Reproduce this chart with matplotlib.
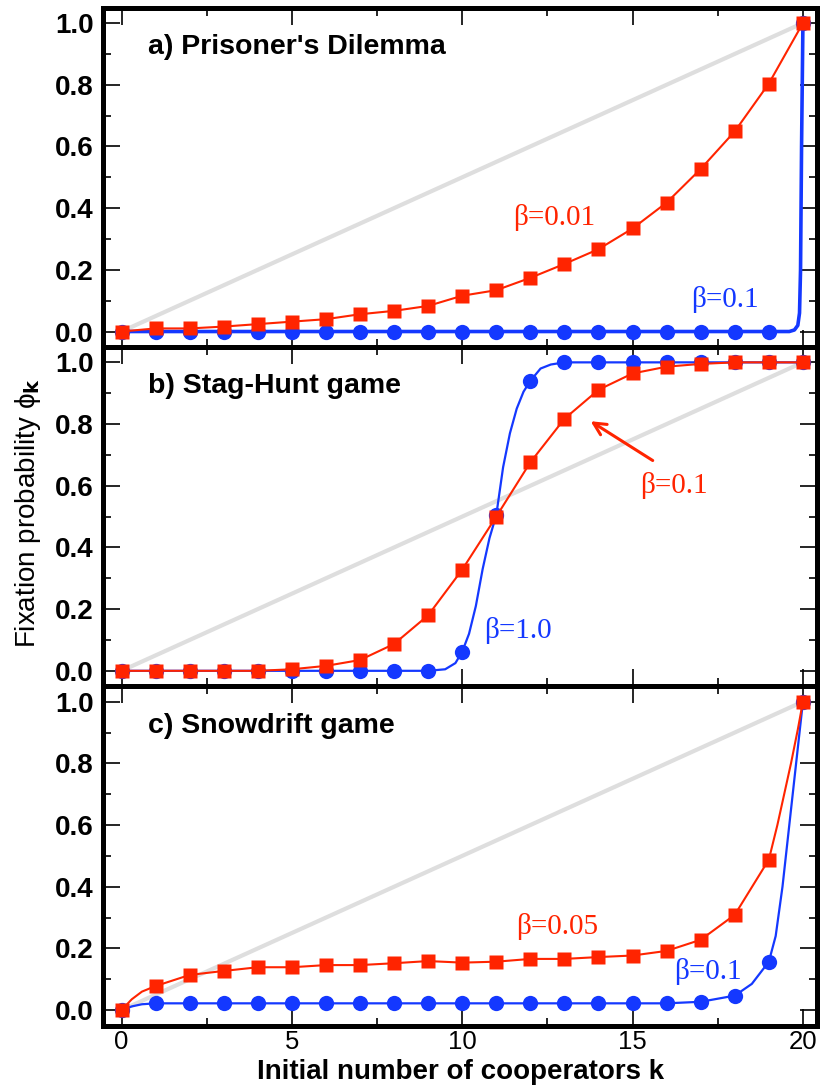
import matplotlib
matplotlib.use("Agg")
import matplotlib.pyplot as plt
from matplotlib.ticker import MultipleLocator

# initial number of cooperators
k = list(range(21))

# a) Prisoner's Dilemma
pd_red = [0.0, 0.01, 0.01, 0.016, 0.024, 0.032, 0.04, 0.056, 0.067, 0.083, 0.116,
          0.134, 0.174, 0.219, 0.267, 0.334, 0.418, 0.527, 0.649, 0.804, 1.0]
pd_blue = [0.0] * 20 + [1.0]
pd_blue_k_extra = [19.6, 19.75, 19.85, 19.9, 19.93, 19.96]
pd_blue_extra = [0.0, 0.005, 0.02, 0.06, 0.2, 0.6]

# b) Stag-Hunt game
sh_red = [0.0, 0.0, 0.0, 0.0, 0.0, 0.005, 0.016, 0.035, 0.087, 0.18, 0.328,
          0.5, 0.676, 0.817, 0.911, 0.964, 0.986, 0.995, 1.0, 1.0, 1.0]
sh_blue = [0.0] * 10 + [0.062, 0.505, 0.94] + [1.0] * 8
sh_blue_k_extra = [9.5, 9.8, 10.2, 10.4, 10.6, 10.8, 11.2, 11.4, 11.6, 11.8, 12.3, 12.6]
sh_blue_extra = [0.005, 0.025, 0.12, 0.21, 0.33, 0.43, 0.66, 0.77, 0.85, 0.905, 0.98, 0.993]

# c) Snowdrift game
sd_red = [0.0, 0.078, 0.114, 0.127, 0.139, 0.139, 0.146, 0.146, 0.152, 0.159, 0.154,
          0.157, 0.166, 0.166, 0.172, 0.177, 0.192, 0.228, 0.309, 0.488, 1.0]
sd_red_k_extra = [0.3, 0.6, 19.25, 19.45, 19.65, 19.85]
sd_red_extra = [0.035, 0.06, 0.6, 0.7, 0.8, 0.91]
sd_blue = [0.0] + [0.022] * 16 + [0.027, 0.047, 0.157, 1.0]
sd_blue_k_extra = [0.3, 0.6, 18.5, 19.2, 19.4, 19.6, 19.8]
sd_blue_extra = [0.012, 0.019, 0.085, 0.24, 0.4, 0.6, 0.8]

titles = ["a) Prisoner's Dilemma", "b) Stag-Hunt game", "c) Snowdrift game"]

RED = "#ff2400"
BLUE = "#1438ff"
GREY = "#dedede"
SANS = ["Liberation Sans", "DejaVu Sans"]
SERIF = ["Liberation Serif", "DejaVu Serif"]


def curve(kk, yy, k_extra, y_extra):
    pts = sorted(list(zip(kk, yy)) + list(zip(k_extra, y_extra)))
    return [p[0] for p in pts], [p[1] for p in pts]


fig, axes = plt.subplots(3, 1, figsize=(8.21, 10.91), dpi=100, sharex=True,
                         gridspec_kw=dict(hspace=0))
fig.subplots_adjust(left=0.126, right=0.995, top=0.993, bottom=0.06)

panels = [
    (pd_red, [], [], pd_blue, pd_blue_k_extra, pd_blue_extra, 2.6),
    (sh_red, [], [], sh_blue, sh_blue_k_extra, sh_blue_extra, 1.6),
    (sd_red, sd_red_k_extra, sd_red_extra, sd_blue, sd_blue_k_extra, sd_blue_extra, 1.6),
]

for ax, title, (red, rk, ry, blue, bk, by, blw) in zip(axes, titles, panels):
    ax.plot([0, 20], [0, 1], color=GREY, lw=3, zorder=1)
    xb, yb = curve(k, blue, bk, by)
    ax.plot(xb, yb, color=BLUE, lw=blw, zorder=2)
    ax.plot(k, blue, "o", color=BLUE, ms=11, mec="none", zorder=3)
    xr, yr = curve(k, red, rk, ry)
    ax.plot(xr, yr, color=RED, lw=1.5, zorder=4)
    ax.plot(k, red, "s", color=RED, ms=9.5, mec="none", zorder=5)

    ax.set_xlim(-0.53, 20.41)
    ax.set_ylim(-0.05, 1.05)
    ax.xaxis.set_major_locator(MultipleLocator(5))
    ax.xaxis.set_minor_locator(MultipleLocator(2.5))
    ax.yaxis.set_major_locator(MultipleLocator(0.2))
    ax.yaxis.set_minor_locator(MultipleLocator(0.1))
    ax.tick_params(which="both", direction="in", top=True, right=True)
    ax.tick_params(which="major", length=12, width=1.2)
    ax.tick_params(which="minor", length=6, width=1.2)
    ax.tick_params(axis="y", pad=7)
    for s in ax.spines.values():
        s.set_linewidth(3.6)
    ax.set_yticks([0, 0.2, 0.4, 0.6, 0.8, 1.0])
    ax.set_yticklabels(["0.0", "0.2", "0.4", "0.6", "0.8", "1.0"],
                       fontsize=20, fontweight="bold", family=SANS)
    ax.text(0.79, 0.9, title, fontsize=20.5, fontweight="bold", family=SANS,
            ha="left", va="baseline", zorder=6)

axes[2].set_xticks([0, 5, 10, 15, 20])
axes[2].set_xticklabels(["0", "5", "10", "15", "20"], fontsize=18.5, family=SANS)
axes[2].tick_params(axis="x", pad=3)

# beta labels
axes[0].text(12.7, 0.37, "β=0.01", color=RED, fontsize=21, family=SERIF, ha="center", va="center")
axes[0].text(17.7, 0.104, "β=0.1", color=BLUE, fontsize=21, family=SERIF, ha="center", va="center")
axes[1].text(16.2, 0.60, "β=0.1", color=RED, fontsize=21, family=SERIF, ha="center", va="center")
axes[1].annotate("", xy=(13.7, 0.814), xytext=(15.66, 0.677),
                 arrowprops=dict(arrowstyle="->", color=RED, lw=2.2, mutation_scale=22))
axes[1].text(11.65, 0.13, "β=1.0", color=BLUE, fontsize=21, family=SERIF, ha="center", va="center")
axes[2].text(12.8, 0.27, "β=0.05", color=RED, fontsize=21, family=SERIF, ha="center", va="center")
axes[2].text(17.2, 0.125, "β=0.1", color=BLUE, fontsize=21, family=SERIF, ha="center", va="center")

fig.text(0.034, 0.53, r"Fixation probability ϕ$_{\mathbf{k}}$", rotation=90,
         fontsize=20, family=SANS, ha="center", va="center")
fig.text(0.5615, 0.011, "Initial number of cooperators k", fontsize=20,
         fontweight="bold", family=SANS, ha="center", va="baseline")

fig.savefig("out.png", dpi=100)
